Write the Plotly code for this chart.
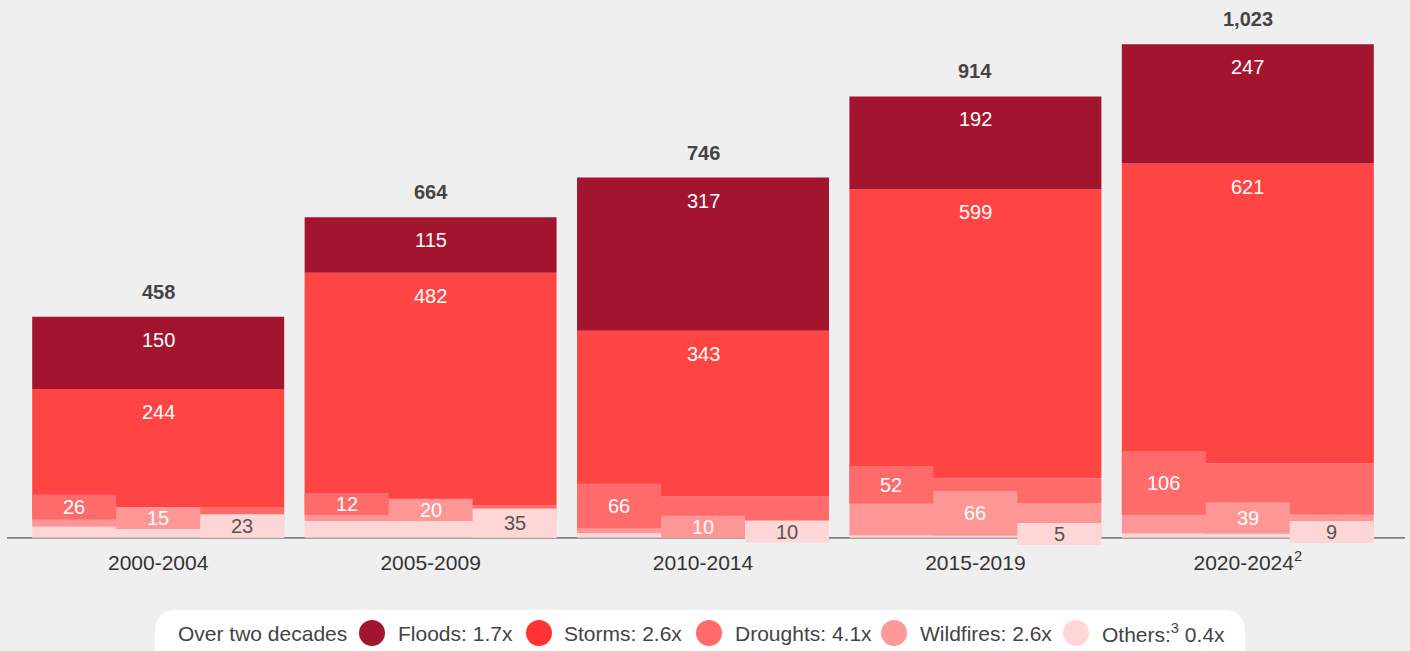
import plotly.graph_objects as go

# ---- data ----
periods = ["2000-2004", "2005-2009", "2010-2014", "2015-2019", "2020-2024"]
tick_text = ["2000-2004", "2005-2009", "2010-2014", "2015-2019", "2020-2024<sup>2</sup>"]
floods = [150, 115, 317, 192, 247]
storms = [244, 482, 343, 599, 621]
droughts = [26, 12, 66, 52, 106]
wildfires = [15, 20, 10, 66, 39]
others = [23, 35, 10, 5, 9]
totals = [458, 664, 746, 914, 1023]
legend_labels = ["Floods: 1.7x", "Storms: 2.6x", "Droughts: 4.1x", "Wildfires: 2.6x", "Others:<sup>3</sup> 0.4x"]

# ---- style ----
C_FLOOD = "#A3152F"
C_STORM = "#FF4444"
C_DROUGHT = "#FF6B6B"
C_WILD = "#FF9696"
C_OTHER = "#FFD6D6"
LEG_COLORS = ["#A3152F", "#FF3333", "#FF6B6B", "#FF9999", "#FFD6D6"]
BG = "#EFEFEF"
FONT = "Liberation Sans, Arial, Helvetica, sans-serif"

W, H = 1410, 651
ML, MR, MT, MB = 22, 26, 10, 103
YR = [-21, 1093]
BAR_W = 0.925
SUB_W = BAR_W / 3
PX_PER_UNIT = (H - MT - MB) / (YR[1] - YR[0])
PAD_U = 12.5 / PX_PER_UNIT      # label space above segment
MINH_U = 22 / PX_PER_UNIT       # minimum label-box height


def pxx(p):
    return (p - ML) / (W - ML - MR)


def pxy(p):
    return (H - MB - p) / (H - MT - MB)


fig = go.Figure()

# full-width stacked segments (bottom -> top)
layers = [("Others", others, C_OTHER), ("Wildfires", wildfires, C_WILD),
          ("Droughts", droughts, C_DROUGHT), ("Storms", storms, C_STORM),
          ("Floods", floods, C_FLOOD)]
bases = [0] * len(periods)
seg_bounds = {}
for name, vals, col in layers:
    seg_bounds[name] = [(b, b + v) for b, v in zip(bases, vals)]
    fig.add_trace(go.Bar(x=periods, y=vals, base=bases, width=BAR_W, marker_color=col,
                         marker_line_width=0, name=name, showlegend=False, hoverinfo="skip"))
    bases = [b + v for b, v in zip(bases, vals)]

annotations = []

# label boxes for the three small categories in thirds of each bar
box_specs = [("Droughts", droughts, C_DROUGHT, "white"),
             ("Wildfires", wildfires, C_WILD, "white"),
             ("Others", others, C_OTHER, "#555555")]
for i, (name, vals, col, tcol) in enumerate(box_specs):
    tops, bots = [], []
    for lo, hi in seg_bounds[name]:
        top = hi + PAD_U
        bot = min(lo, top - MINH_U)
        tops.append(top)
        bots.append(bot)
    fig.add_trace(go.Bar(x=periods, y=[t - b for t, b in zip(tops, bots)], base=bots,
                         width=SUB_W, offset=-BAR_W / 2 + i * SUB_W, marker_color=col,
                         marker_line_width=0, showlegend=False, hoverinfo="skip"))
    for j, p in enumerate(periods):
        annotations.append(dict(x=p, y=(tops[j] + bots[j]) / 2, xref="x", yref="y",
                                xshift=(i - 1) * SUB_W * (W - ML - MR) / len(periods),
                                text=str(vals[j]), showarrow=False,
                                font=dict(family=FONT, size=20, color=tcol)))

# flood/storm labels near segment tops
for name in ["Storms", "Floods"]:
    vals = storms if name == "Storms" else floods
    for j, p in enumerate(periods):
        annotations.append(dict(x=p, y=seg_bounds[name][j][1], xref="x", yref="y", yshift=-23,
                                text=str(vals[j]), showarrow=False,
                                font=dict(family=FONT, size=20, color="white")))

# totals
for j, p in enumerate(periods):
    annotations.append(dict(x=p, y=bases[j], xref="x", yref="y", yshift=25,
                            text="<b>{:,}</b>".format(totals[j]), showarrow=False,
                            font=dict(family=FONT, size=20, color="#444444")))

shapes = []
# baseline
shapes.append(dict(type="line", xref="paper", yref="y", x0=pxx(7), x1=pxx(1405), y0=0, y1=0,
                   line=dict(color="#555555", width=1.3), layer="below"))

# legend pill
L, R, T, B, r = 155, 1245, 610, 700, 22
path = ("M {l},{ym} Q {l},{t} {lr},{t} L {rr},{t} Q {r},{t} {r},{ym} L {r},{b} L {l},{b} Z").format(
    l=pxx(L), r=pxx(R), t=pxy(T), b=pxy(B), ym=pxy(T + r), lr=pxx(L + r), rr=pxx(R - r))
shapes.append(dict(type="path", xref="paper", yref="paper", path=path,
                   fillcolor="white", line=dict(width=0), layer="above"))

annotations.append(dict(x=pxx(176), y=pxy(633), xref="paper", yref="paper", xanchor="left",
                        yanchor="middle", text="Over two decades", showarrow=False,
                        font=dict(family=FONT, size=21, color="#444444")))
circle_cx = [372, 539, 709, 894, 1076]
text_x = [396, 562, 733, 918, 1100]
for cx, tx, col, lab in zip(circle_cx, text_x, LEG_COLORS, legend_labels):
    shapes.append(dict(type="circle", xref="paper", yref="paper",
                       x0=pxx(cx - 13), x1=pxx(cx + 13), y0=pxy(646), y1=pxy(620),
                       fillcolor=col, line=dict(width=0), layer="above"))
    annotations.append(dict(x=pxx(tx), y=pxy(633), xref="paper", yref="paper", xanchor="left",
                            yanchor="middle", text=lab, showarrow=False,
                            font=dict(family=FONT, size=21, color="#444444")))

fig.update_layout(
    width=W, height=H,
    margin=dict(l=ML, r=MR, t=MT, b=MB),
    paper_bgcolor=BG, plot_bgcolor=BG,
    barmode="overlay", showlegend=False,
    xaxis=dict(type="category", tickvals=periods, ticktext=tick_text, showgrid=False,
               showline=False, zeroline=False, ticks="",
               tickfont=dict(family=FONT, size=21, color="#333333")),
    yaxis=dict(range=YR, visible=False, showgrid=False, zeroline=False),
    annotations=annotations, shapes=shapes,
)

fig.write_html("out.html", config={"displayModeBar": False},
               post_script="document.body.style.margin='0px';")
